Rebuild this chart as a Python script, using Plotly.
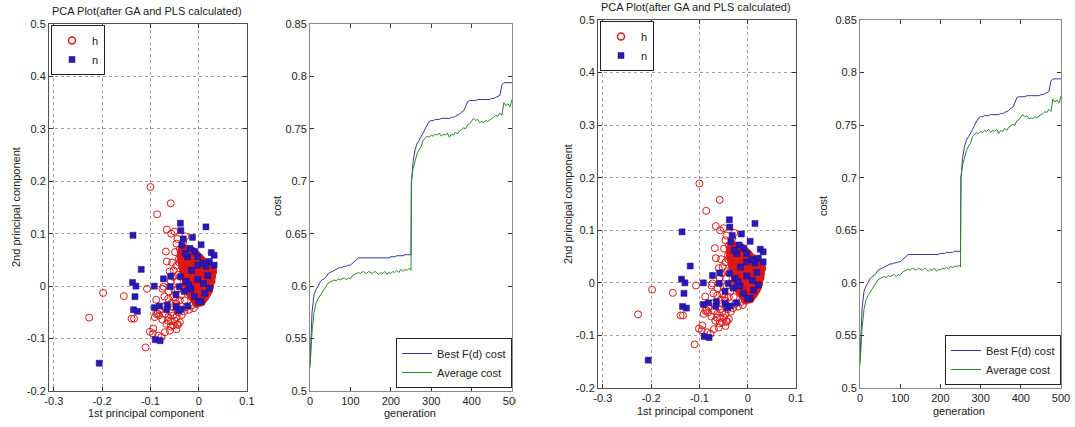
import plotly.graph_objects as go

W, H = 1075, 427

# ---------------- PCA scatter data ----------------
h_outer = [
    (-0.297, 0.423), (-0.100, 0.189), (-0.058, 0.158), (-0.086, 0.137),
    (-0.227, -0.060), (-0.198, -0.013), (-0.155, -0.019), (-0.139, -0.062),
    (-0.134, -0.062), (-0.110, -0.117), (-0.107, -0.005), (-0.101, -0.087),
    (-0.094, -0.081), (-0.095, -0.090), (-0.088, -0.026), (-0.088, -0.053),
    (-0.091, -0.059), (-0.081, -0.046), (-0.066, 0.108), (-0.057, 0.100),
    (-0.050, 0.104), (-0.068, 0.066), (-0.066, 0.047), (-0.060, 0.028),
    (-0.075, -0.005), (-0.084, -0.094), (-0.077, -0.097), (-0.070, -0.088),
    (-0.060, -0.085), (-0.046, -0.082), (-0.043, -0.073), (-0.053, -0.075),
    (-0.067, -0.072), (-0.075, -0.064), (-0.082, -0.056), (-0.070, -0.053),
    (-0.063, -0.059), (-0.053, -0.056), (-0.039, -0.069), (-0.072, -0.039),
    (-0.063, -0.024), (-0.053, -0.021), (-0.050, -0.008), (-0.045, 0.009),
    (-0.043, 0.022), (-0.046, 0.039), (-0.041, 0.052), (-0.036, 0.062),
    (-0.039, 0.071), (-0.046, 0.081), (-0.034, 0.036), (-0.034, 0.024),
    (-0.036, -0.017), (-0.039, -0.027), (-0.046, -0.034), (-0.029, -0.027),
    (-0.026, -0.040), (-0.015, -0.037), (-0.005, -0.034), (0.006, -0.031),
    (0.012, -0.021), (0.017, -0.015), (-0.053, -0.040), (-0.057, -0.050),
    (-0.046, -0.059), (-0.032, -0.001), (-0.026, 0.006), (-0.024, 0.017),
    (-0.020, 0.027), (-0.055, 0.045), (-0.052, 0.030), (-0.058, 0.010),
    (-0.062, -0.010), (-0.056, -0.032), (-0.048, -0.028), (-0.042, -0.050),
    (-0.035, -0.055), (-0.030, -0.048), (-0.020, -0.045), (-0.010, -0.042),
    (-0.044, -0.005), (-0.040, 0.045), (-0.049, 0.065), (-0.044, 0.090),
    (-0.032, 0.085), (-0.028, 0.095), (-0.053, 0.018), (-0.064, -0.066),
    (-0.058, -0.067), (-0.049, -0.066), (-0.071, -0.020), (-0.073, -0.001),
    (-0.085, -0.052), (-0.058, -0.077), (-0.044, -0.074),
]

h_core = [
    (-0.034, 0.070), (-0.028, 0.071), (-0.021, 0.069), (-0.016, 0.068),
    (-0.036, 0.064), (-0.030, 0.065), (-0.025, 0.063), (-0.018, 0.064), (-0.012, 0.062), (-0.006, 0.061),
    (-0.037, 0.058), (-0.031, 0.057), (-0.025, 0.059), (-0.019, 0.057), (-0.013, 0.058), (-0.007, 0.056), (-0.001, 0.055),
    (-0.036, 0.052), (-0.030, 0.051), (-0.024, 0.053), (-0.018, 0.051), (-0.012, 0.052), (-0.006, 0.050), (0.000, 0.051), (0.006, 0.049),
    (-0.035, 0.046), (-0.029, 0.045), (-0.023, 0.047), (-0.017, 0.045), (-0.011, 0.046), (-0.005, 0.044), (0.001, 0.046), (0.007, 0.045), (0.013, 0.043),
    (-0.033, 0.040), (-0.027, 0.041), (-0.021, 0.039), (-0.015, 0.040), (-0.009, 0.041), (-0.003, 0.039), (0.003, 0.040), (0.009, 0.038), (0.015, 0.041), (0.021, 0.037),
    (-0.032, 0.034), (-0.026, 0.033), (-0.020, 0.035), (-0.014, 0.034), (-0.008, 0.033), (-0.002, 0.035), (0.004, 0.034), (0.010, 0.033), (0.016, 0.035), (0.022, 0.034), (0.027, 0.032),
    (-0.030, 0.028), (-0.024, 0.027), (-0.018, 0.029), (-0.012, 0.028), (-0.006, 0.027), (0.000, 0.029), (0.006, 0.028), (0.012, 0.027), (0.018, 0.029), (0.024, 0.028), (0.029, 0.027),
    (-0.029, 0.022), (-0.023, 0.021), (-0.017, 0.023), (-0.011, 0.022), (-0.005, 0.021), (0.001, 0.023), (0.007, 0.022), (0.013, 0.021), (0.019, 0.023), (0.025, 0.022),
    (-0.027, 0.016), (-0.021, 0.015), (-0.015, 0.017), (-0.009, 0.016), (-0.003, 0.015), (0.003, 0.017), (0.009, 0.016), (0.015, 0.015), (0.021, 0.017), (0.026, 0.016),
    (-0.026, 0.010), (-0.020, 0.009), (-0.014, 0.011), (-0.008, 0.010), (-0.002, 0.009), (0.004, 0.011), (0.010, 0.010), (0.016, 0.009), (0.022, 0.011), (0.026, 0.010),
    (-0.025, 0.004), (-0.019, 0.003), (-0.013, 0.005), (-0.007, 0.004), (-0.001, 0.003), (0.005, 0.005), (0.011, 0.004), (0.017, 0.003), (0.023, 0.005),
    (-0.023, -0.002), (-0.017, -0.003), (-0.011, -0.001), (-0.005, -0.002), (0.001, -0.003), (0.007, -0.001), (0.013, -0.002), (0.019, -0.003), (0.023, -0.001),
    (-0.021, -0.008), (-0.015, -0.009), (-0.009, -0.007), (-0.003, -0.008), (0.003, -0.009), (0.009, -0.007), (0.015, -0.008), (0.020, -0.009),
    (-0.018, -0.014), (-0.012, -0.015), (-0.006, -0.013), (0.000, -0.014), (0.006, -0.015), (0.012, -0.013), (0.017, -0.014),
    (-0.014, -0.020), (-0.008, -0.021), (-0.002, -0.019), (0.004, -0.020), (0.010, -0.021), (0.014, -0.019),
    (-0.009, -0.026), (-0.003, -0.027), (0.003, -0.025), (0.008, -0.026),
    (-0.004, -0.032), (0.002, -0.031),
    (-0.031, 0.067), (-0.025, 0.068), (-0.019, 0.066), (-0.013, 0.067),
    (-0.033, 0.061), (-0.027, 0.062), (-0.021, 0.060), (-0.015, 0.061), (-0.009, 0.060), (-0.003, 0.058),
    (-0.034, 0.055), (-0.028, 0.054), (-0.022, 0.056), (-0.016, 0.054), (-0.010, 0.055), (-0.004, 0.053), (0.002, 0.054),
    (-0.033, 0.049), (-0.027, 0.048), (-0.021, 0.050), (-0.015, 0.048), (-0.009, 0.049), (-0.003, 0.047), (0.003, 0.049), (0.009, 0.047),
    (-0.032, 0.043), (-0.026, 0.042), (-0.020, 0.044), (-0.014, 0.042), (-0.008, 0.043), (-0.002, 0.042), (0.004, 0.043), (0.010, 0.041), (0.016, 0.042),
    (-0.030, 0.037), (-0.024, 0.038), (-0.018, 0.036), (-0.012, 0.037), (-0.006, 0.038), (0.000, 0.036), (0.006, 0.037), (0.012, 0.036), (0.018, 0.038), (0.024, 0.036),
    (-0.029, 0.031), (-0.023, 0.030), (-0.017, 0.032), (-0.011, 0.031), (-0.005, 0.030), (0.001, 0.032), (0.007, 0.031), (0.013, 0.030), (0.019, 0.032), (0.025, 0.031), (0.029, 0.030),
    (-0.027, 0.025), (-0.021, 0.024), (-0.015, 0.026), (-0.009, 0.025), (-0.003, 0.024), (0.003, 0.026), (0.009, 0.025), (0.015, 0.024), (0.021, 0.026), (0.027, 0.025),
    (-0.026, 0.019), (-0.020, 0.018), (-0.014, 0.020), (-0.008, 0.019), (-0.002, 0.018), (0.004, 0.020), (0.010, 0.019), (0.016, 0.018), (0.022, 0.020), (0.027, 0.019),
    (-0.025, 0.013), (-0.019, 0.012), (-0.013, 0.014), (-0.007, 0.013), (-0.001, 0.012), (0.005, 0.014), (0.011, 0.013), (0.017, 0.012), (0.023, 0.014),
    (-0.024, 0.007), (-0.018, 0.006), (-0.012, 0.008), (-0.006, 0.007), (0.000, 0.006), (0.006, 0.008), (0.012, 0.007), (0.018, 0.006), (0.024, 0.008),
    (-0.022, 0.001), (-0.016, 0.000), (-0.010, 0.002), (-0.004, 0.001), (0.002, 0.000), (0.008, 0.002), (0.014, 0.001), (0.020, 0.000),
    (-0.020, -0.005), (-0.014, -0.006), (-0.008, -0.004), (-0.002, -0.005), (0.004, -0.006), (0.010, -0.004), (0.016, -0.005), (0.021, -0.006),
    (-0.017, -0.011), (-0.011, -0.012), (-0.005, -0.010), (0.001, -0.011), (0.007, -0.012), (0.013, -0.010), (0.018, -0.011),
    (-0.013, -0.017), (-0.007, -0.018), (-0.001, -0.016), (0.005, -0.017), (0.011, -0.018), (0.015, -0.016),
    (-0.009, -0.023), (-0.003, -0.024), (0.003, -0.022), (0.009, -0.023), (0.012, -0.022),
    (-0.005, -0.029), (0.001, -0.028), (0.006, -0.029),
]

n_points = [
    (-0.206, -0.147), (-0.136, 0.097), (-0.119, 0.032), (-0.137, 0.007),
    (-0.130, 0.000), (-0.132, -0.020), (-0.135, -0.045), (-0.127, -0.048),
    (-0.092, 0.000), (-0.092, -0.041), (-0.081, -0.038), (-0.090, -0.102),
    (-0.080, -0.104), (-0.073, 0.014), (-0.058, 0.019), (-0.059, -0.001),
    (-0.065, -0.036), (-0.066, -0.045), (-0.047, -0.039), (-0.042, -0.047),
    (-0.036, -0.044), (-0.047, -0.016), (-0.038, 0.018), (-0.026, 0.009),
    (-0.040, -0.001), (-0.016, -0.006), (-0.009, -0.020), (-0.023, -0.038),
    (-0.002, 0.013), (0.012, -0.014), (0.005, -0.029), (0.022, -0.004),
    (-0.038, 0.120), (-0.037, 0.106), (0.015, 0.113), (-0.013, 0.093),
    (-0.032, 0.090), (-0.035, 0.078), (0.005, 0.079), (-0.018, 0.072),
    (-0.008, 0.066), (-0.002, 0.056), (0.026, 0.064), (0.032, 0.059),
    (0.022, 0.047), (0.032, 0.040), (-0.023, 0.056), (-0.002, 0.040),
    (0.015, 0.038), (0.009, 0.044), (-0.028, 0.062), (0.019, 0.020),
    (-0.015, 0.030), (0.000, -0.030), (-0.030, -0.010), (-0.020, 0.002),
    (0.010, 0.005),
]

h_points = h_outer + h_core
h_x = [p[0] for p in h_points]
h_y = [p[1] for p in h_points]
n_x = [p[0] for p in n_points]
n_y = [p[1] for p in n_points]

# ---------------- GA cost data ----------------
gen_first = list(range(0, 251, 5))
gen_second = [251] + list(range(255, 501, 5))
generations = gen_first + gen_second

best_cost = [
    0.525, 0.575, 0.592, 0.597, 0.600, 0.604, 0.606, 0.607, 0.609, 0.612,
    0.613, 0.614, 0.615, 0.616, 0.617, 0.618, 0.618, 0.619, 0.619, 0.620,
    0.620, 0.622, 0.623, 0.626, 0.627, 0.627, 0.627, 0.627, 0.627, 0.627,
    0.627, 0.627, 0.627, 0.627, 0.627, 0.627, 0.627, 0.627, 0.627, 0.627,
    0.628, 0.628, 0.628, 0.629, 0.629, 0.629, 0.629, 0.630, 0.630, 0.630,
    0.630,
    0.698, 0.718, 0.730, 0.736, 0.739, 0.742, 0.746, 0.750, 0.754, 0.757,
    0.758, 0.758, 0.759, 0.759, 0.759, 0.760, 0.760, 0.760, 0.760, 0.760,
    0.761, 0.761, 0.762, 0.763, 0.764, 0.766, 0.767, 0.771, 0.776, 0.777,
    0.777, 0.777, 0.777, 0.778, 0.778, 0.778, 0.778, 0.778, 0.778, 0.778,
    0.779, 0.779, 0.780, 0.781, 0.782, 0.792, 0.794, 0.794, 0.794, 0.794,
    0.794,
]

avg_cost = [
    0.522, 0.556, 0.575, 0.584, 0.588, 0.591, 0.594, 0.597, 0.601, 0.603,
    0.604, 0.605, 0.606, 0.605, 0.607, 0.606, 0.607, 0.608, 0.606, 0.608,
    0.607, 0.610, 0.611, 0.612, 0.613, 0.612, 0.614, 0.613, 0.612, 0.614,
    0.613, 0.612, 0.614, 0.613, 0.611, 0.613, 0.612, 0.614, 0.611, 0.613,
    0.612, 0.614, 0.613, 0.615, 0.613, 0.616, 0.614, 0.616, 0.615, 0.617,
    0.615,
    0.700, 0.712, 0.720, 0.726, 0.730, 0.733, 0.739, 0.741, 0.743, 0.742,
    0.744, 0.743, 0.745, 0.744, 0.746, 0.743, 0.745, 0.744, 0.746, 0.742,
    0.745, 0.744, 0.747, 0.745, 0.748, 0.749, 0.751, 0.750, 0.754, 0.755,
    0.757, 0.760, 0.758, 0.759, 0.756, 0.757, 0.756, 0.758, 0.757, 0.759,
    0.760, 0.761, 0.763, 0.762, 0.765, 0.763, 0.775, 0.772, 0.774, 0.771,
    0.778,
]

pca_xticks = [-0.3, -0.2, -0.1, 0, 0.1]
pca_xtext = ["-0.3", "-0.2", "-0.1", "0", "0.1"]
pca_yticks = [-0.2, -0.1, 0, 0.1, 0.2, 0.3, 0.4, 0.5]
pca_ytext = ["-0.2", "-0.1", "0", "0.1", "0.2", "0.3", "0.4", "0.5"]

title_text = "PCA Plot(after GA and PLS calculated)"

FONT = "Liberation Sans, Arial, sans-serif"
RED = "#dc1818"
BLUE_SQ = "#2a18b8"
LINE_BLUE = "#35359e"
LINE_GREEN = "#2a8a2a"

# thin rings for the scattered points, heavier rings where circles pile up
h_ring_width = [1.0] * len(h_outer) + [1.7] * len(h_core)


def px(x):
    return x / W


def py(y):
    return 1 - y / H


panels = [
    dict(pl=49, pr=247, cl=310, cr=512, top=24, bot=391,
         title=(147, 11), ytit=(16, 207), xtit=(146, 413), ctit=(277, 206), gtit=(410, 413)),
    dict(pl=598, pr=796, cl=860, cr=1061, top=20, bot=388,
         title=(696, 7), ytit=(568, 204), xtit=(695, 411), ctit=(823, 206), gtit=(959, 411)),
]

fig = go.Figure()
layout = dict(
    width=W, height=H, margin=dict(l=0, r=0, t=0, b=0),
    paper_bgcolor="white", plot_bgcolor="white", template="none",
    font=dict(family=FONT, size=11, color="#222"),
    annotations=[], shapes=[],
)

for i, p in enumerate(panels):
    xa_p = "x" if i == 0 else "x3"
    ya_p = "y" if i == 0 else "y3"
    xa_c = "x2" if i == 0 else "x4"
    ya_c = "y2" if i == 0 else "y4"
    leg_p = "legend" if i == 0 else "legend3"
    leg_c = "legend2" if i == 0 else "legend4"

    fig.add_trace(go.Scatter(
        x=h_x, y=h_y, mode="markers", name="h", xaxis=xa_p, yaxis=ya_p, legend=leg_p,
        marker=dict(symbol="circle-open", size=7, color=RED,
                    line=dict(width=h_ring_width, color=RED)),
    ))
    fig.add_trace(go.Scatter(
        x=n_x, y=n_y, mode="markers", name="n", xaxis=xa_p, yaxis=ya_p, legend=leg_p,
        marker=dict(symbol="square", size=6, color=BLUE_SQ, line=dict(width=0.5, color="#1a0c80")),
    ))
    fig.add_trace(go.Scatter(
        x=generations, y=best_cost, mode="lines", name="Best F(d) cost",
        xaxis=xa_c, yaxis=ya_c, legend=leg_c, line=dict(color=LINE_BLUE, width=1),
    ))
    fig.add_trace(go.Scatter(
        x=generations, y=avg_cost, mode="lines", name="Average cost",
        xaxis=xa_c, yaxis=ya_c, legend=leg_c, line=dict(color=LINE_GREEN, width=1),
    ))

    ydom = [py(p["bot"]), py(p["top"])]
    common = dict(showline=True, mirror="ticks", ticks="inside", ticklen=4,
                  tickcolor="#333", zeroline=False, automargin=False,
                  tickfont=dict(family=FONT, size=11, color="#222"))
    sfx_p = "" if i == 0 else "3"
    sfx_c = "2" if i == 0 else "4"
    layout["xaxis" + sfx_p] = dict(
        domain=[px(p["pl"]), px(p["pr"])], range=[-0.31, 0.1], anchor=ya_p,
        tickvals=pca_xticks, ticktext=pca_xtext, showgrid=True, griddash="dot",
        gridcolor="#a0a0a0", gridwidth=1, linecolor="#505050", **common)
    layout["yaxis" + sfx_p] = dict(
        domain=ydom, range=[-0.2, 0.5], anchor=xa_p,
        tickvals=pca_yticks, ticktext=pca_ytext, showgrid=True, griddash="dot",
        gridcolor="#a0a0a0", gridwidth=1, linecolor="#505050", **common)
    layout["xaxis" + sfx_c] = dict(
        domain=[px(p["cl"]), px(p["cr"])], range=[0, 500], anchor=ya_c,
        dtick=100, showgrid=False, linecolor="#8a8a8a", **common)
    layout["yaxis" + sfx_c] = dict(
        domain=ydom, range=[0.5, 0.85], anchor=xa_c,
        dtick=0.05, showgrid=False, linecolor="#8a8a8a", **common)

    layout[leg_p] = dict(
        x=px(p["pl"] + 2), y=py(p["top"] + 1), xanchor="left", yanchor="top",
        bgcolor="white", bordercolor="#222", borderwidth=1, itemwidth=30,
        font=dict(family=FONT, size=11, color="#222"), tracegroupgap=0,
    )
    layout[leg_c] = dict(
        x=px(p["cr"]), y=py(p["bot"] - 3), xanchor="right", yanchor="bottom",
        bgcolor="white", bordercolor="#222", borderwidth=1, itemwidth=30,
        font=dict(family=FONT, size=11, color="#222"), tracegroupgap=0,
    )

    tx, ty = p["title"]
    layout["annotations"].append(dict(
        text=title_text, x=px(tx), y=py(ty), xref="paper", yref="paper",
        showarrow=False, xanchor="center", yanchor="middle",
        font=dict(family=FONT, size=11, color="#222")))
    for key, txt, ang in [("ytit", "2nd principal component", -90),
                          ("xtit", "1st principal component", 0),
                          ("ctit", "cost", -90),
                          ("gtit", "generation", 0)]:
        ax_, ay_ = p[key]
        layout["annotations"].append(dict(
            text=txt, x=px(ax_), y=py(ay_), xref="paper", yref="paper",
            showarrow=False, xanchor="center", yanchor="middle", textangle=ang,
            font=dict(family=FONT, size=11, color="#222")))

# the left composite is cropped just right of its cost axis
layout["shapes"].append(dict(
    type="rect", xref="paper", yref="paper", x0=px(516), x1=px(545),
    y0=0, y1=py(393), fillcolor="white", line=dict(width=0), layer="above"))

fig.update_layout(**layout)
fig.write_html(
    "out.html",
    config={"displayModeBar": False},
    post_script="document.body.style.margin='0';document.body.style.overflow='hidden';",
)
